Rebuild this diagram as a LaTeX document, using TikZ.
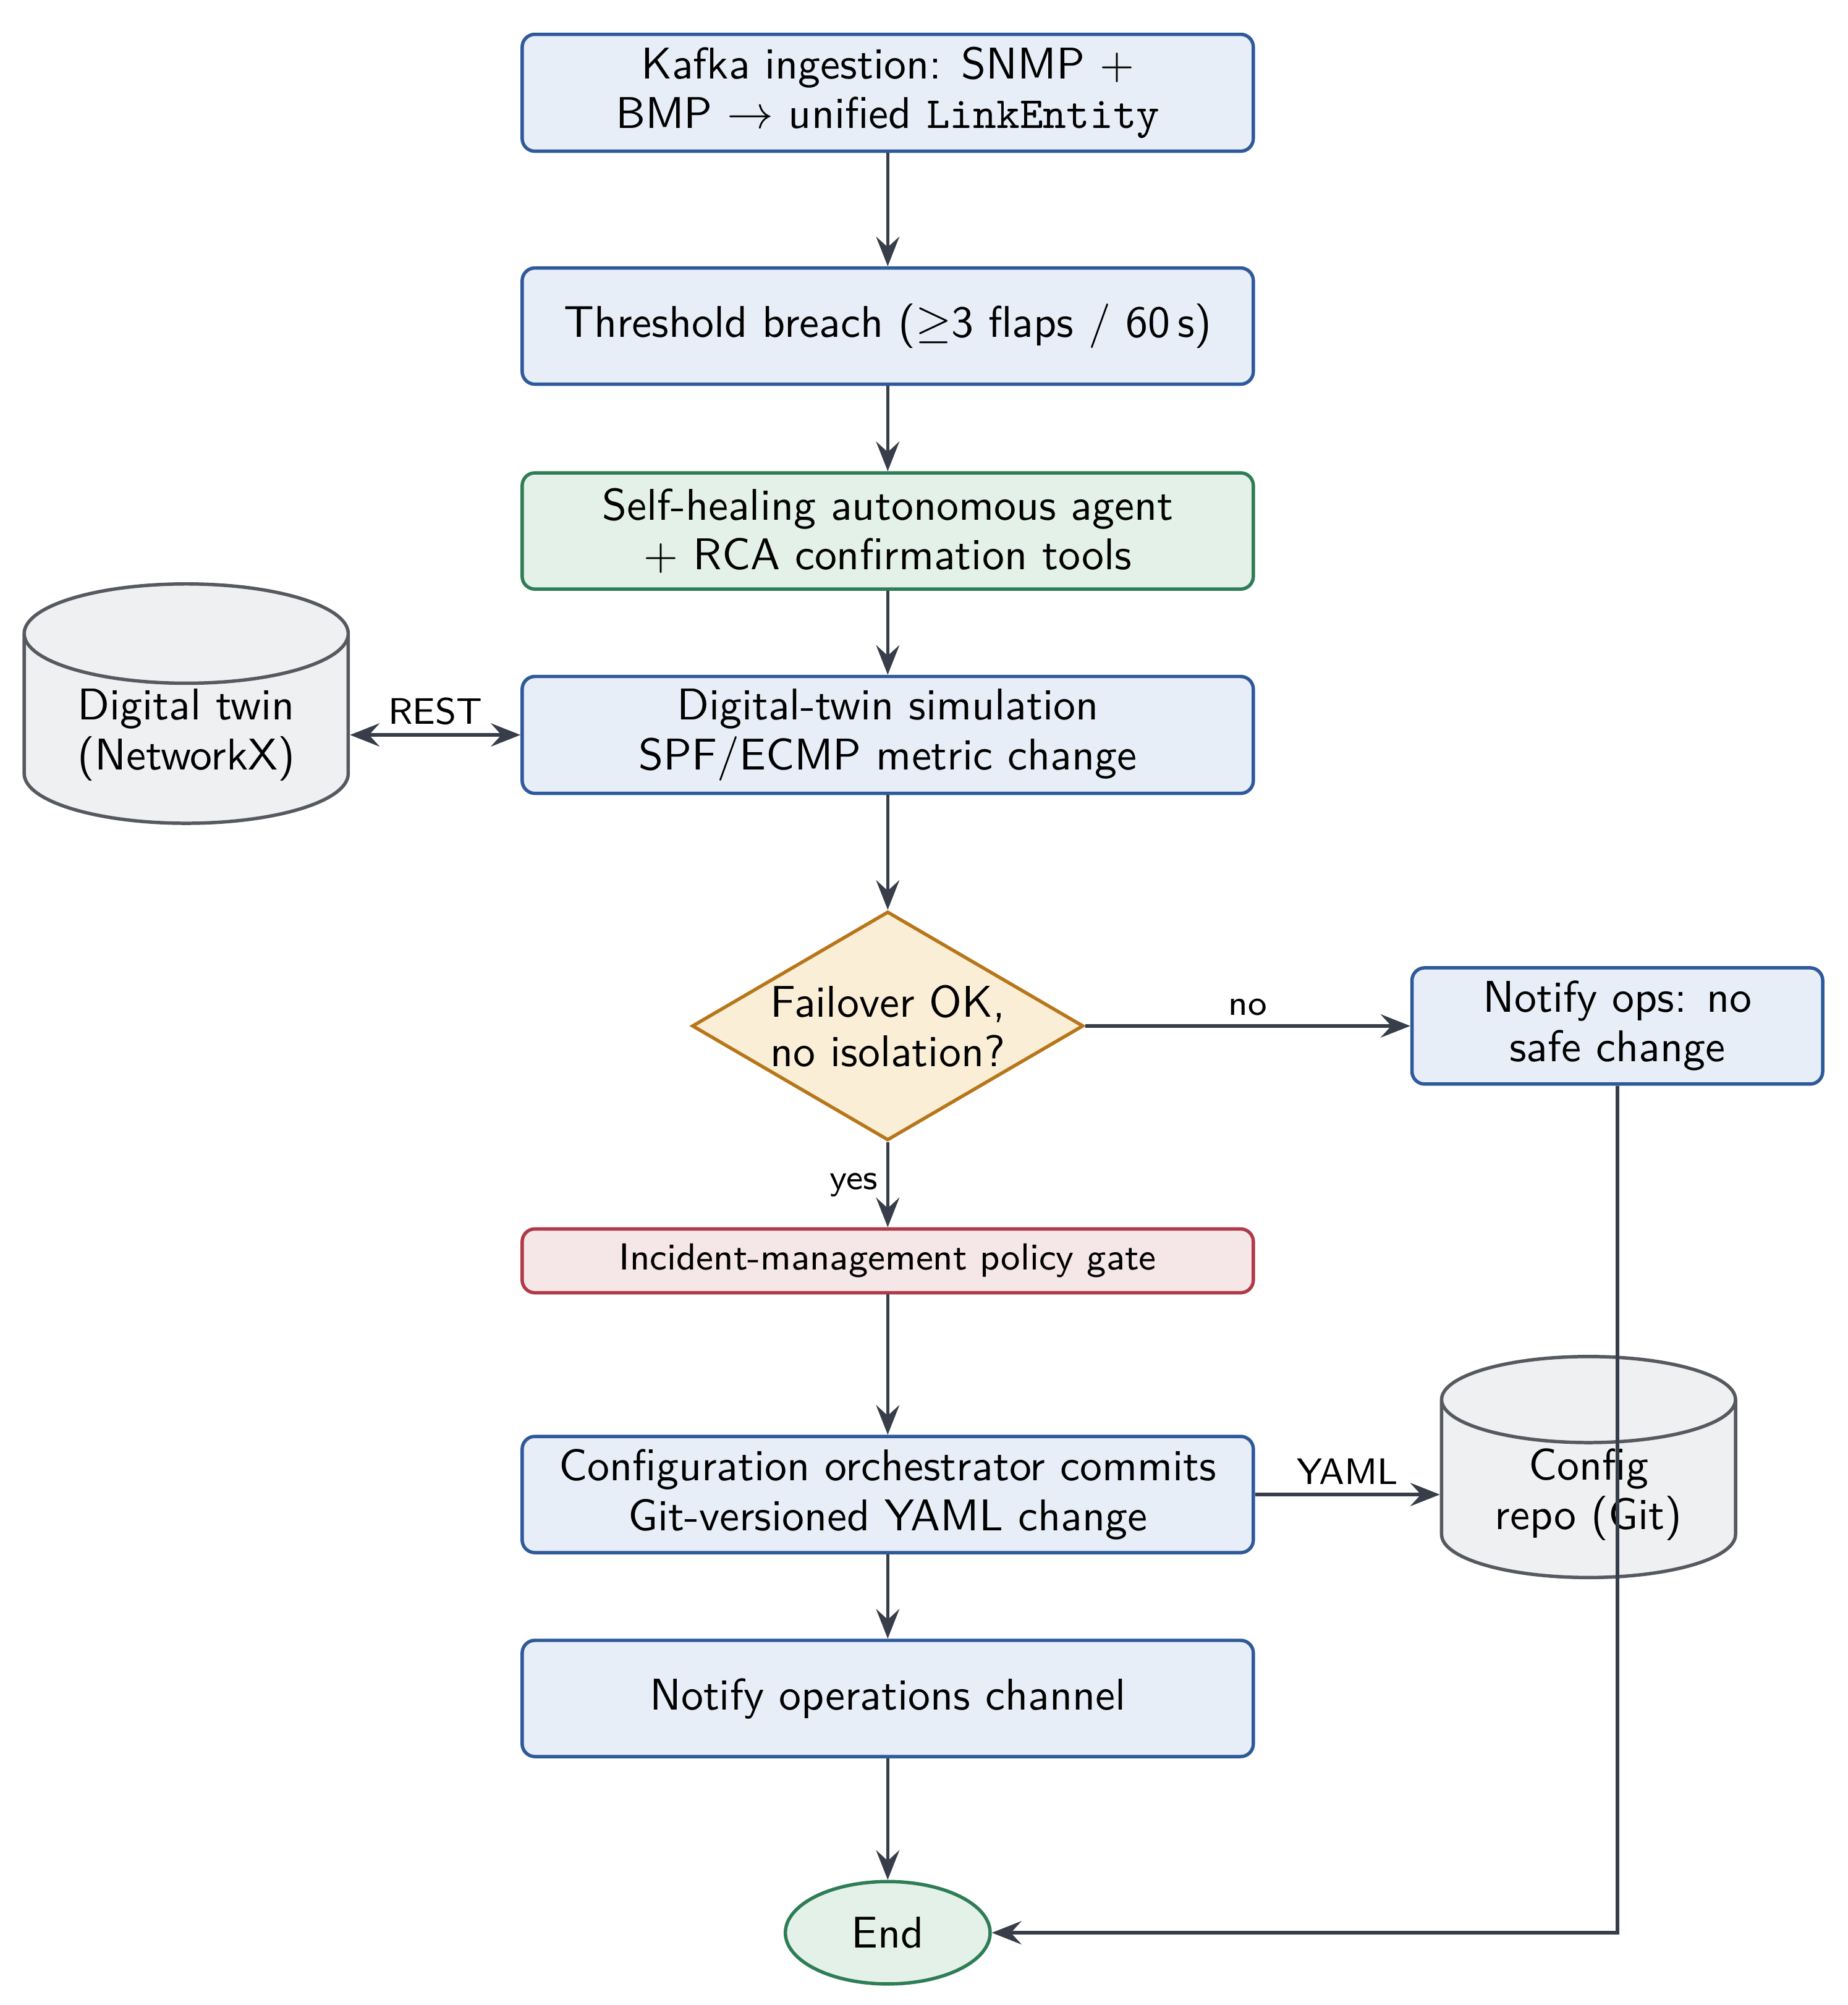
\documentclass[tikz,border=0pt]{standalone}
\usetikzlibrary{arrows.meta,shapes.geometric,positioning}
\definecolor{blueline}{HTML}{2E5A9C}
\definecolor{bluefill}{HTML}{E8EEF8}
\definecolor{greenline}{HTML}{2E7D55}
\definecolor{greenfill}{HTML}{E3F1E9}
\definecolor{amberline}{HTML}{B8761A}
\definecolor{amberfill}{HTML}{FAEED6}
\definecolor{redline}{HTML}{B03A48}
\definecolor{redfill}{HTML}{F5E6E8}
\definecolor{grayline}{HTML}{56595F}
\definecolor{grayfill}{HTML}{EFF0F2}
\definecolor{arrowgray}{HTML}{373E4A}
\newcommand{\mainsize}{\fontsize{10.5pt}{11.7pt}\selectfont}
\newcommand{\gatesize}{\fontsize{8.9pt}{10.5pt}\selectfont}
\newcommand{\lblsize}{\fontsize{8.7pt}{10.4pt}\selectfont}
\newcommand{\tinylbl}{\fontsize{8.4pt}{10pt}\selectfont}
\begin{document}
\begin{tikzpicture}[x=1cm,y=1cm,font=\sffamily\mainsize,
    >={Stealth[length=7pt,width=5.5pt,inset=2.5pt]},
    box/.style={draw=blueline,fill=bluefill,thick,rounded corners=3pt,inner ysep=3pt,
        minimum width=6.07cm,minimum height=0.965cm,align=center},
    agentbox/.style={box,draw=greenline,fill=greenfill},
    gatebox/.style={box,draw=redline,fill=redfill,minimum height=0.53cm,font=\sffamily\gatesize},
    decision/.style={diamond,draw=amberline,fill=amberfill,thick,aspect=1.7,
        minimum width=3.25cm,minimum height=1.9cm,inner sep=0pt,align=center},
    store/.style={cylinder,shape border rotate=90,aspect=0.44,draw=grayline,fill=grayfill,
        thick,inner sep=1pt,align=center},
    terminal/.style={ellipse,draw=greenline,fill=greenfill,thick,minimum width=1.7cm,minimum height=0.85cm},
    arr/.style={->,thick,draw=arrowgray},
    lbl/.style={font=\sffamily\lblsize,inner sep=2pt}]
    \useasboundingbox (-7.37,0) rectangle (7.97,-16.645);
    % main column
    \node[box] (kafka) at (0,-0.77) {Kafka ingestion: SNMP +\\BMP $\rightarrow$ unified \texttt{LinkEntity}};
    \node[box] (breach) at (0,-2.707) {Threshold breach ($\geq$3 flaps / 60\,s)};
    \node[agentbox] (agent) at (0,-4.408) {Self-healing autonomous agent\\+ RCA confirmation tools};
    \node[box] (sim) at (0,-6.101) {Digital-twin simulation\\SPF/ECMP metric change};
    \node[decision] (check) at (0,-8.517) {Failover OK,\\no isolation?};
    \node[gatebox] (gate) at (0,-10.467) {Incident-management policy gate};
    \node[box] (orch) at (0,-12.407) {Configuration orchestrator commits\\Git-versioned YAML change};
    \node[box] (notify) at (0,-14.1) {Notify operations channel};
    \node[terminal] (end) at (0,-16.045) {End};
    % side nodes
    \node[box,minimum width=3.41cm] (nosafe) at (6.057,-8.517) {Notify ops: no\\safe change};
    \node[store,minimum width=2.69cm,minimum height=1.2cm] (twin) at (-5.824,-6.101) {Digital twin\\(NetworkX)};
    \node[store,minimum width=2.44cm,minimum height=1.36cm] (repo) at (5.818,-12.407) {Config\\repo (Git)};
    \foreach \a/\b in {kafka/breach,breach/agent,agent/sim,sim/check,gate/orch,orch/notify,notify/end}
        \draw[arr] (\a) -- (\b);
    \draw[arr] (check) -- node[lbl,left,font=\sffamily\tinylbl] {yes} (gate);
    \draw[arr] (check) -- node[lbl,above,font=\sffamily\tinylbl] {no} (nosafe);
    \draw[arr,<->] (twin.east |- sim.west) -- node[lbl,above] {REST} (sim.west);
    \draw[arr] (orch.east) -- node[lbl,above] {YAML} (repo.west |- orch.east);
    \draw[arr] (nosafe) |- (end);
\end{tikzpicture}
\end{document}
